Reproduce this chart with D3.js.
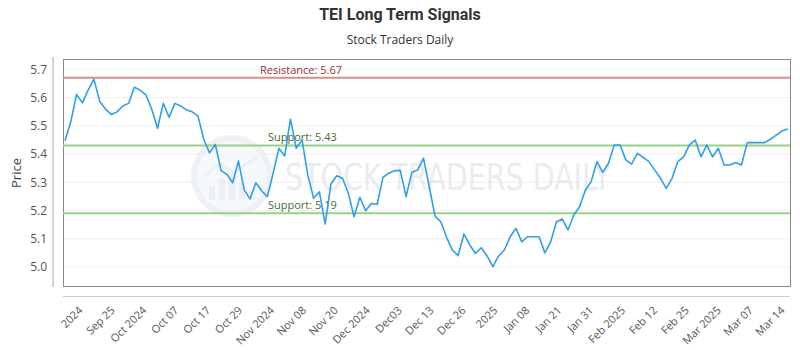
<!DOCTYPE html>
<html>
<head>
<meta charset="utf-8">
<script src="https://cdn.jsdelivr.net/npm/d3@7"></script>
<style>
  body { margin: 0; background: #fff; }
  svg { display: block; }
</style>
</head>
<body>
<svg id="chart" width="800" height="350"></svg>
<script>
const title = "TEI Long Term Signals";
const subtitle = "Stock Traders Daily";
const yLabel = "Price";

const prices = [
  5.447, 5.514, 5.611, 5.581, 5.626, 5.665, 5.586, 5.559, 5.540, 5.549,
  5.570, 5.579, 5.636, 5.626, 5.609, 5.558, 5.491, 5.579, 5.530, 5.579,
  5.570, 5.556, 5.549, 5.534, 5.452, 5.404, 5.434, 5.341, 5.328, 5.298,
  5.375, 5.272, 5.241, 5.298, 5.270, 5.249, 5.332, 5.420, 5.393, 5.523,
  5.420, 5.450, 5.325, 5.243, 5.266, 5.152, 5.294, 5.323, 5.314, 5.261,
  5.178, 5.247, 5.199, 5.225, 5.222, 5.317, 5.332, 5.341, 5.341, 5.249,
  5.335, 5.343, 5.385, 5.284, 5.180, 5.160, 5.105, 5.060, 5.040, 5.117,
  5.078, 5.048, 5.068, 5.039, 5.001, 5.039, 5.060, 5.107, 5.137, 5.089,
  5.107, 5.107, 5.107, 5.050, 5.089, 5.160, 5.170, 5.131, 5.184, 5.213,
  5.272, 5.302, 5.373, 5.335, 5.367, 5.432, 5.432, 5.379, 5.364, 5.402,
  5.388, 5.373, 5.343, 5.314, 5.278, 5.314, 5.373, 5.390, 5.432, 5.449,
  5.390, 5.432, 5.390, 5.420, 5.361, 5.361, 5.370, 5.361, 5.440, 5.440,
  5.440, 5.440, 5.452, 5.467, 5.481, 5.488
];

const xTickLabels = ["2024", "Sep 25", "Oct 2024", "Oct 07", "Oct 17", "Oct 29", "Nov 2024",
  "Nov 08", "Nov 20", "Dec 2024", "Dec03", "Dec 13", "Dec 26", "2025", "Jan 08", "Jan 21",
  "Jan 31", "Feb 2025", "Feb 12", "Feb 25", "Mar 2025", "Mar 07", "Mar 14"];

const yTicks = [5.0, 5.1, 5.2, 5.3, 5.4, 5.5, 5.6, 5.7];

const levels = [
  { label: "Resistance: 5.67", value: 5.67, kind: "res" },
  { label: "Support: 5.43", value: 5.43, kind: "sup" },
  { label: "Support: 5.19", value: 5.19, kind: "sup" }
];

const svg = d3.select("#chart");
const plot = { left: 63, right: 790, top: 59, bottom: 286 };

const x = d3.scaleLinear().domain([0, prices.length - 1]).range([65, 787.7]);
const y = d3.scaleLinear().domain([5.0, 5.7]).range([267, 69.2]);
const xt = d3.scalePoint().domain(xTickLabels).range([83, 785]);

// Title
svg.append("text").attr("x", 400).attr("y", 20).attr("text-anchor", "middle")
  .attr("font-family", "Roboto, 'Open Sans', sans-serif").attr("font-weight", "bold")
  .attr("font-size", 16).attr("fill", "#333").text(title);
svg.append("text").attr("x", 400).attr("y", 44).attr("text-anchor", "middle")
  .attr("font-family", "'Open Sans', sans-serif").attr("font-size", 12)
  .attr("fill", "#333").text(subtitle);

// Gridlines
svg.append("g").selectAll("line").data(yTicks).join("line")
  .attr("x1", plot.left).attr("x2", plot.right)
  .attr("y1", d => y(d)).attr("y2", d => y(d))
  .attr("stroke", "#f0f0f0").attr("stroke-width", 1);

// Watermark
const wm = svg.append("g").attr("opacity", 0.6);
wm.append("circle").attr("cx", 232).attr("cy", 176).attr("r", 38)
  .attr("fill", "#f1f5f8").attr("stroke", "#e3e9ef").attr("stroke-width", 6);
[[-20, 14], [-10, 22], [0, 28], [10, 18], [20, 10]].forEach(([dx, h]) => {
  wm.append("rect").attr("x", 232 + dx - 3).attr("y", 200 - h).attr("width", 6).attr("height", h)
    .attr("fill", "#e0e6ec");
});
wm.append("path").attr("d", "M204,176 L220,164 L234,172 L258,156")
  .attr("fill", "none").attr("stroke", "#e0e6ec").attr("stroke-width", 3);
wm.append("text").attr("x", 285).attr("y", 190)
  .attr("font-family", "'DejaVu Sans Condensed', 'DejaVu Sans', sans-serif")
  .attr("font-size", 38).attr("fill", "#dce2e9")
  .attr("textLength", 326).attr("lengthAdjust", "spacingAndGlyphs")
  .text("STOCK TRADERS DAILY");

// Plot border
svg.append("rect").attr("x", plot.left + 0.5).attr("y", plot.top + 0.5)
  .attr("width", plot.right - plot.left).attr("height", plot.bottom - plot.top)
  .attr("fill", "none").attr("stroke", "#888").attr("stroke-width", 1);

// Level lines
levels.forEach(l => {
  svg.append("line").attr("x1", plot.left).attr("x2", plot.right)
    .attr("y1", y(l.value)).attr("y2", y(l.value))
    .attr("stroke", l.kind === "res" ? "#e08a8a" : "#98d08a").attr("stroke-width", 2);
  svg.append("text").attr("x", l.kind === "res" ? 260 : 268).attr("y", y(l.value) - 4)
    .attr("font-family", "'Open Sans', sans-serif").attr("font-size", 11)
    .attr("fill", l.kind === "res" ? "#9a3030" : "#3f6e2a").text(l.label);
});

// Price line
svg.append("path").datum(prices)
  .attr("d", d3.line().x((d, i) => x(i)).y(d => y(d)))
  .attr("fill", "none").attr("stroke", "#2f9fe6").attr("stroke-width", 1.6)
  .attr("stroke-linejoin", "round");

// Y axis
const yAxis = svg.append("g").attr("transform", "translate(53,0)")
  .call(d3.axisLeft(y).tickValues(yTicks).tickFormat(d3.format(".1f")).tickSize(0).tickPadding(6));
yAxis.select(".domain").attr("d", "M0,57V287").attr("stroke", "#aaa");
yAxis.selectAll("text").attr("font-family", "'Open Sans', sans-serif")
  .attr("font-size", 12).attr("fill", "#555");

svg.append("text").attr("transform", "translate(21,173) rotate(-90)")
  .attr("text-anchor", "middle").attr("font-family", "'Open Sans', sans-serif")
  .attr("font-size", 13).attr("fill", "#444").text(yLabel);

// X axis
const xAxis = svg.append("g").attr("transform", "translate(0,296)")
  .call(d3.axisBottom(xt).tickSize(0).tickPadding(0));
xAxis.select(".domain").attr("d", `M${plot.left},0.5H${plot.right}`).attr("stroke", "#ccc");
xAxis.selectAll("text")
  .attr("font-family", "'Open Sans', sans-serif").attr("font-size", 11).attr("fill", "#555")
  .attr("text-anchor", "end").attr("dy", 0).attr("y", 0)
  .attr("transform", "translate(0,15) rotate(-45)");
</script>
</body>
</html>
